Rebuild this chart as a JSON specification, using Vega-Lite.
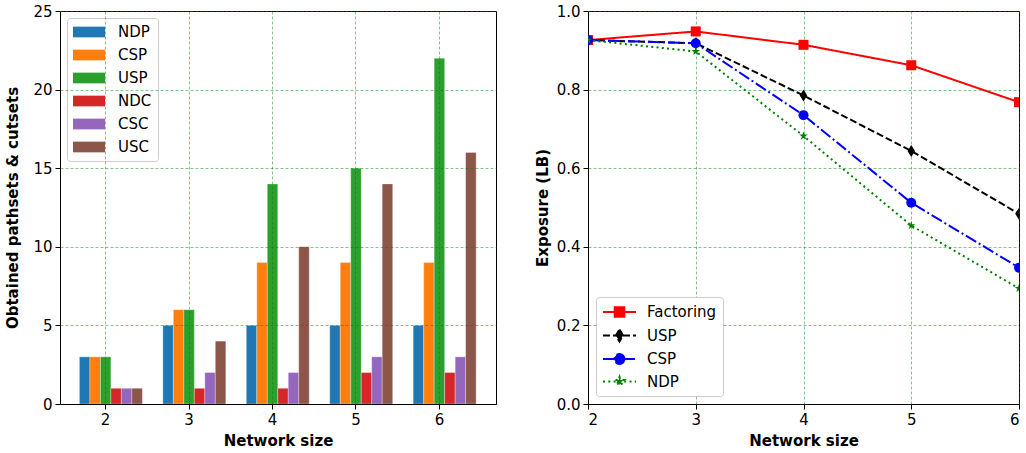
{
  "$schema": "https://vega.github.io/schema/vega-lite/v6.json",
  "padding": {"left": 5, "top": 3, "right": 0, "bottom": 5},
  "spacing": 37,
  "resolve": {
    "scale": {"color": "independent", "strokeDash": "independent"},
    "legend": {"color": "independent", "strokeDash": "independent"}
  },
  "config": {
    "font": "DejaVu Sans",
    "view": {"stroke": "black", "strokeWidth": 1},
    "axis": {
      "labelFont": "DejaVu Sans", "labelFontSize": 15, "labelColor": "black",
      "titleFont": "DejaVu Sans", "titleFontSize": 15, "titleFontWeight": "bold", "titleColor": "black",
      "tickColor": "black", "domainColor": "black", "tickSize": 5, "labelPadding": 3,
      "grid": true, "gridColor": "green", "gridDash": [3, 2], "gridWidth": 0.6, "gridOpacity": 0.8
    },
    "legend": {
      "labelFont": "DejaVu Sans", "labelFontSize": 15, "labelColor": "black",
      "padding": 6, "strokeColor": "#cccccc", "cornerRadius": 3, "fillColor": "white"
    }
  },
  "hconcat": [
    {
      "width": 436,
      "height": 393,
      "data": {"values": [
        {"size": 2, "series": "NDP", "count": 3}, {"size": 2, "series": "CSP", "count": 3}, {"size": 2, "series": "USP", "count": 3},
        {"size": 2, "series": "NDC", "count": 1}, {"size": 2, "series": "CSC", "count": 1}, {"size": 2, "series": "USC", "count": 1},
        {"size": 3, "series": "NDP", "count": 5}, {"size": 3, "series": "CSP", "count": 6}, {"size": 3, "series": "USP", "count": 6},
        {"size": 3, "series": "NDC", "count": 1}, {"size": 3, "series": "CSC", "count": 2}, {"size": 3, "series": "USC", "count": 4},
        {"size": 4, "series": "NDP", "count": 5}, {"size": 4, "series": "CSP", "count": 9}, {"size": 4, "series": "USP", "count": 14},
        {"size": 4, "series": "NDC", "count": 1}, {"size": 4, "series": "CSC", "count": 2}, {"size": 4, "series": "USC", "count": 10},
        {"size": 5, "series": "NDP", "count": 5}, {"size": 5, "series": "CSP", "count": 9}, {"size": 5, "series": "USP", "count": 15},
        {"size": 5, "series": "NDC", "count": 2}, {"size": 5, "series": "CSC", "count": 3}, {"size": 5, "series": "USC", "count": 14},
        {"size": 6, "series": "NDP", "count": 5}, {"size": 6, "series": "CSP", "count": 9}, {"size": 6, "series": "USP", "count": 22},
        {"size": 6, "series": "NDC", "count": 2}, {"size": 6, "series": "CSC", "count": 3}, {"size": 6, "series": "USC", "count": 16}
      ]},
      "mark": {"type": "bar", "stroke": "white", "strokeWidth": 0.6, "strokeOpacity": 0.5},
      "encoding": {
        "x": {
          "field": "size", "type": "ordinal",
          "scale": {"paddingInner": 0.12, "paddingOuter": 0.1725, "align": 0.31},
          "axis": {"title": "Network size", "labelAngle": 0, "zindex": 1, "titlePadding": 6}
        },
        "xOffset": {
          "field": "series", "type": "nominal",
          "scale": {"domain": ["_", "NDP", "CSP", "USP", "NDC", "CSC", "USC"], "paddingInner": 0, "paddingOuter": 0}
        },
        "y": {
          "field": "count", "type": "quantitative",
          "scale": {"domain": [0, 25]},
          "axis": {"title": "Obtained pathsets & cutsets", "values": [0, 5, 10, 15, 20, 25], "zindex": 1, "titlePadding": 12}
        },
        "color": {
          "field": "series", "type": "nominal",
          "scale": {"domain": ["NDP", "CSP", "USP", "NDC", "CSC", "USC"], "range": ["#1f77b4", "#ff7f0e", "#2ca02c", "#d62728", "#9467bd", "#8c564b"]},
          "legend": {"title": null, "orient": "top-left", "offset": 7, "symbolType": "M-1,-0.67H3V0.67H-1Z", "symbolSize": 256, "symbolStrokeWidth": 0, "labelOffset": 29, "rowPadding": 7}
        }
      }
    },
    {
      "width": 431,
      "height": 393,
      "data": {"values": [
        {"size": 2, "method": "Factoring", "exposure": 0.926}, {"size": 3, "method": "Factoring", "exposure": 0.948},
        {"size": 4, "method": "Factoring", "exposure": 0.914}, {"size": 5, "method": "Factoring", "exposure": 0.862},
        {"size": 6, "method": "Factoring", "exposure": 0.768},
        {"size": 2, "method": "USP", "exposure": 0.926}, {"size": 3, "method": "USP", "exposure": 0.918},
        {"size": 4, "method": "USP", "exposure": 0.785}, {"size": 5, "method": "USP", "exposure": 0.644},
        {"size": 6, "method": "USP", "exposure": 0.484},
        {"size": 2, "method": "CSP", "exposure": 0.926}, {"size": 3, "method": "CSP", "exposure": 0.918},
        {"size": 4, "method": "CSP", "exposure": 0.735}, {"size": 5, "method": "CSP", "exposure": 0.512},
        {"size": 6, "method": "CSP", "exposure": 0.347},
        {"size": 2, "method": "NDP", "exposure": 0.926}, {"size": 3, "method": "NDP", "exposure": 0.897},
        {"size": 4, "method": "NDP", "exposure": 0.682}, {"size": 5, "method": "NDP", "exposure": 0.454},
        {"size": 6, "method": "NDP", "exposure": 0.294}
      ]},
      "encoding": {
        "x": {
          "field": "size", "type": "quantitative",
          "scale": {"domain": [2, 6], "nice": false},
          "axis": {"title": "Network size", "values": [2, 3, 4, 5, 6], "format": "d", "titlePadding": 6}
        },
        "y": {
          "field": "exposure", "type": "quantitative",
          "scale": {"domain": [0, 1], "nice": false},
          "axis": {"title": "Exposure (LB)", "values": [0, 0.2, 0.4, 0.6, 0.8, 1.0], "format": ".1f", "titlePadding": 6}
        },
        "color": {
          "field": "method", "type": "nominal",
          "scale": {"domain": ["Factoring", "USP", "CSP", "NDP"], "range": ["#ff0000", "#000000", "#0000ff", "#008000"]},
          "legend": {
            "title": null, "orient": "bottom-left", "offset": 8, "labelOffset": 27, "rowPadding": 4.5, "symbolSize": 256, "symbolStrokeWidth": 2,
            "encode": {"symbols": {"update": {
              "shape": {"signal": "datum.value === 'Factoring' ? 'M-1,0H3.125M0.4625,-0.6H1.6625V0.6H0.4625Z' : datum.value === 'USP' ? 'M-1,0H3.125M1.0625,-0.75L1.5125,0L1.0625,0.75L0.6125,0Z' : datum.value === 'CSP' ? 'M-1,0H3.125M1.6875,0A0.625,0.625,0,1,1,0.4375,0A0.625,0.625,0,1,1,1.6875,0Z' : 'M-1,0H3.125M1.0625,-0.5625L1.188,-0.173L1.597,-0.174L1.266,0.066L1.393,0.455L1.0625,0.214L0.732,0.455L0.859,0.066L0.528,-0.174L0.937,-0.173Z'"},
              "strokeDash": {"signal": "datum.value === 'Factoring' ? [1,0] : datum.value === 'USP' ? [7,3] : datum.value === 'CSP' ? [12,3,2,3] : [2,3.3]"},
              "stroke": {"signal": "datum.value === 'Factoring' ? '#ff0000' : datum.value === 'USP' ? '#000000' : datum.value === 'CSP' ? '#0000ff' : '#008000'"},
              "fill": {"signal": "datum.value === 'Factoring' ? '#ff0000' : datum.value === 'USP' ? '#000000' : datum.value === 'CSP' ? '#0000ff' : '#008000'"},
              "strokeWidth": {"value": 2},
              "size": {"value": 256},
              "opacity": {"value": 1},
              "fillOpacity": {"value": 1},
              "strokeOpacity": {"value": 1}
            }}}
          }
        }
      },
      "layer": [
        {
          "mark": {"type": "line", "strokeWidth": 2, "clip": true},
          "encoding": {
            "strokeDash": {
              "field": "method", "type": "nominal",
              "scale": {"domain": ["Factoring", "USP", "CSP", "NDP"], "range": [[1, 0], [7, 3], [12, 3, 2, 3], [2, 3.3]]},
              "legend": null
            }
          }
        },
        {
          "transform": [{"filter": "datum.method === 'Factoring'"}],
          "mark": {"type": "point", "shape": "square", "filled": true, "opacity": 1, "size": 100, "clip": true}
        },
        {
          "transform": [{"filter": "datum.method === 'USP'"}],
          "mark": {"type": "point", "shape": "M0,-1.2L0.75,0L0,1.2L-0.75,0Z", "filled": true, "opacity": 1, "size": 100, "clip": true}
        },
        {
          "transform": [{"filter": "datum.method === 'CSP'"}],
          "mark": {"type": "point", "shape": "circle", "filled": true, "opacity": 1, "size": 100, "clip": true}
        },
        {
          "transform": [{"filter": "datum.method === 'NDP'"}],
          "mark": {"type": "point", "shape": "M0,-0.9L0.2,-0.276L0.856,-0.278L0.325,0.105L0.529,0.728L0,0.342L-0.529,0.728L-0.325,0.105L-0.856,-0.278L-0.2,-0.276Z", "filled": true, "opacity": 1, "size": 100, "clip": true}
        }
      ]
    }
  ]
}
